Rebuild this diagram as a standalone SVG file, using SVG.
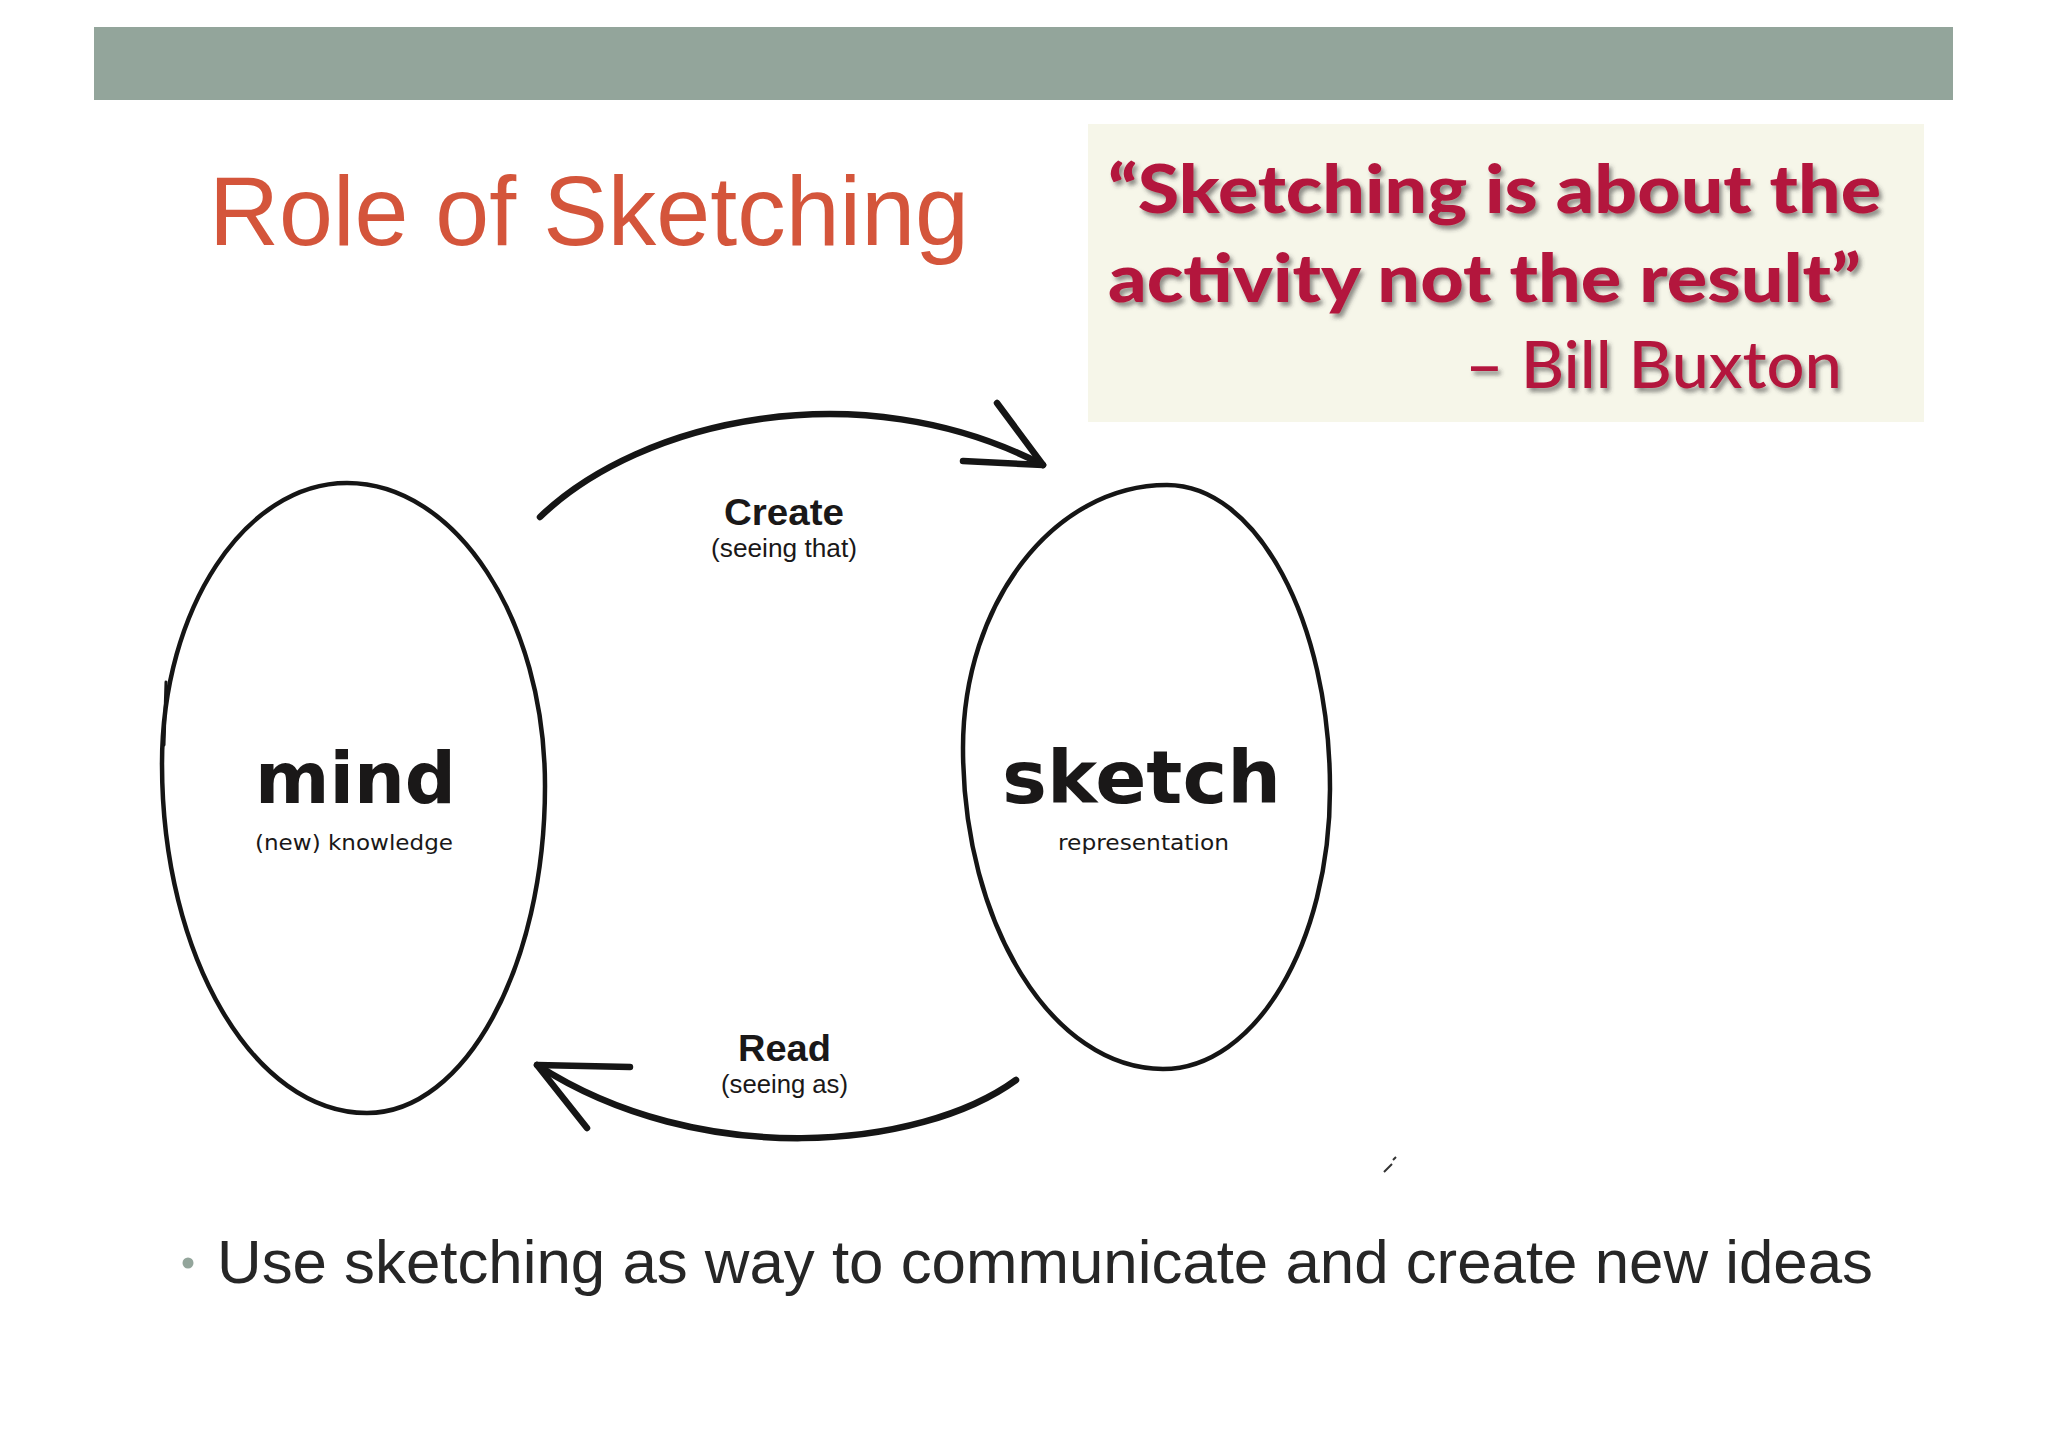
<svg xmlns="http://www.w3.org/2000/svg" width="2048" height="1447" viewBox="0 0 2048 1447">
  <style>
    .stroke { fill: none; stroke: #151515; stroke-linecap: round; stroke-linejoin: round; }
    .node { stroke-width: 4.5; }
    .arrow { stroke-width: 6.5; }
    .big { font-family: "DejaVu Sans", sans-serif; font-weight: bold; fill: #1a1818; }
    .small { font-family: "DejaVu Sans", sans-serif; fill: #1a1818; }
    .lbl { font-family: "Liberation Sans", Arial, sans-serif; fill: #1a1818; }
    .quote { font-family: Lato, "Open Sans", sans-serif; fill: #b3173d; filter: url(#shadow); }
  </style>
  <defs>
    <filter id="shadow" x="-5%" y="-20%" width="110%" height="140%">
      <feDropShadow dx="3" dy="4" stdDeviation="2" flood-color="#3a3a3a" flood-opacity="0.55"/>
    </filter>
  </defs>
  <rect width="2048" height="1447" fill="#ffffff"/>
  <rect id="topbar" x="94" y="27" width="1859" height="73" fill="#93a59b"/>
  <text id="title" x="209" y="245" font-family="Liberation Sans, Arial, sans-serif" font-size="98" fill="#d4553b" textLength="760" lengthAdjust="spacingAndGlyphs">Role of Sketching</text>
  <g id="quote">
    <rect x="1088" y="124" width="836" height="298" fill="#f6f6e9"/>
    <text class="quote" x="1108" y="213" font-size="66" font-weight="900" textLength="773" lengthAdjust="spacingAndGlyphs">“Sketching is about the</text>
    <text class="quote" x="1108" y="302" font-size="66" font-weight="900" textLength="753" lengthAdjust="spacingAndGlyphs">activity not the result”</text>
    <text class="quote" x="1465" y="388" font-size="66" font-weight="500" textLength="377" lengthAdjust="spacingAndGlyphs">– Bill Buxton</text>
  </g>
  <g id="mind">
    <path class="stroke node" d="M 347 483 C 456 483, 545 619, 545 786 C 545 967, 465 1113, 367 1113 C 254 1113, 162 957, 162 764 C 162 609, 245 483, 347 483 Z"/>
    <path class="stroke" stroke-width="3" d="M 166 682 L 164 745"/>
    <text class="big" x="255" y="803" font-size="71" textLength="201" lengthAdjust="spacingAndGlyphs">mind</text>
    <text class="small" x="255" y="850" font-size="22" textLength="198" lengthAdjust="spacingAndGlyphs">(new) knowledge</text>
  </g>
  <g id="sketch">
    <path class="stroke node" d="M 1167 485 C 1257 485, 1330 621, 1330 789 C 1330 944, 1255 1069, 1163 1069 C 1053 1069, 963 925, 963 748 C 963 603, 1054 485, 1167 485 Z"/>
    <text class="big" x="1002" y="803" font-size="73" textLength="279" lengthAdjust="spacingAndGlyphs">sketch</text>
    <text class="small" x="1058" y="850" font-size="22" textLength="171" lengthAdjust="spacingAndGlyphs">representation</text>
  </g>
  <g id="connectors">
    <g id="create">
      <path class="stroke arrow" d="M 540 517 C 640 420, 860 370, 1043 465"/>
      <path class="stroke arrow" d="M 997 403 L 1043 465 L 963 461"/>
      <text class="lbl" x="724" y="525" font-size="37" font-weight="bold" textLength="120" lengthAdjust="spacingAndGlyphs">Create</text>
      <text class="lbl" x="711" y="557" font-size="25" textLength="146" lengthAdjust="spacingAndGlyphs">(seeing that)</text>
    </g>
    <g id="read">
      <path class="stroke arrow" d="M 1016 1080 C 920 1150, 700 1170, 537 1065"/>
      <path class="stroke arrow" d="M 630 1067 L 537 1065 L 587 1128"/>
      <text class="lbl" x="738" y="1061" font-size="37" font-weight="bold" textLength="93" lengthAdjust="spacingAndGlyphs">Read</text>
      <text class="lbl" x="721" y="1093" font-size="25" textLength="127" lengthAdjust="spacingAndGlyphs">(seeing as)</text>
    </g>
  </g>
  <path d="M 1384 1172 L 1392 1164 M 1393 1160 L 1396 1157" stroke="#333" stroke-width="2" fill="none"/>
  <g id="bullet">
    <circle cx="188" cy="1263" r="5.5" fill="#93a59b"/>
    <text x="217" y="1283" font-family="Liberation Sans, Arial, sans-serif" font-size="62" fill="#262626" textLength="1656" lengthAdjust="spacingAndGlyphs">Use sketching as way to communicate and create new ideas</text>
  </g>
</svg>
